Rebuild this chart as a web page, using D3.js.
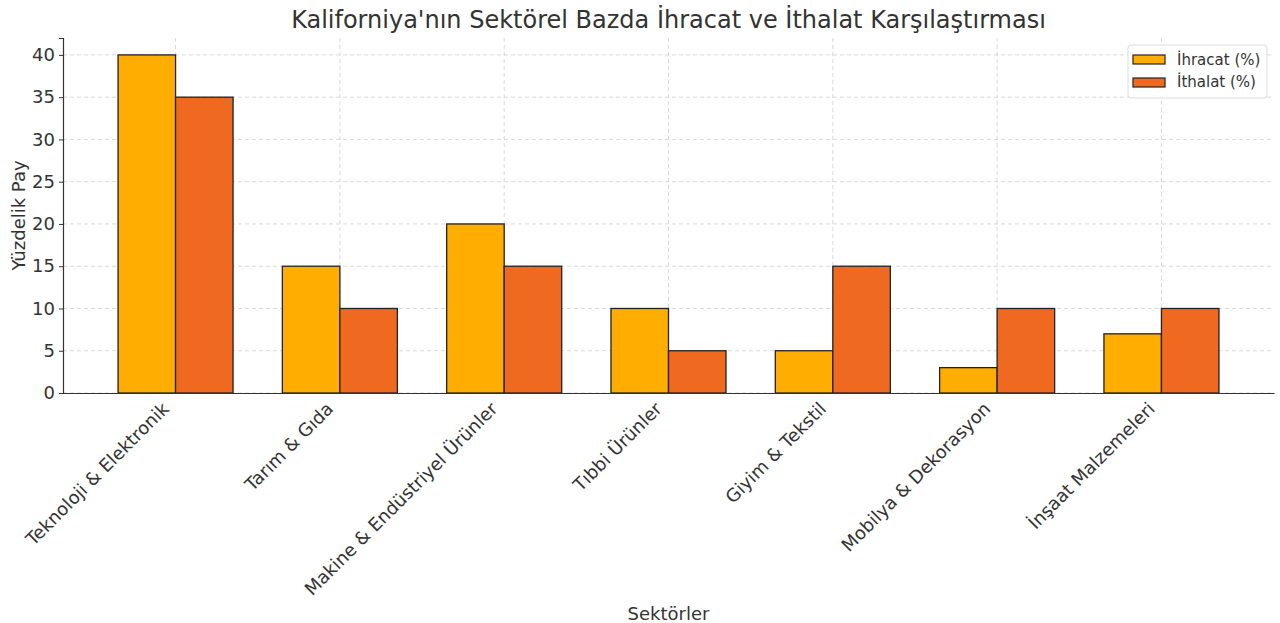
<!DOCTYPE html>
<html>
<head>
<meta charset="utf-8">
<script src="https://cdn.jsdelivr.net/npm/d3@7"></script>
<style>
    body { margin: 0; background: #fff; }
    svg { font-family: "DejaVu Sans", sans-serif; }
    .grid line { stroke: #d0d0d0; stroke-dasharray: 4,3; stroke-width: 0.8; }
</style>
</head>
<body>
<script>
// Sector names, export and import shares (percent)
var sectors = ["Teknoloji & Elektronik", "Tarım & Gıda",
    "Makine & Endüstriyel Ürünler", "Tıbbi Ürünler", "Giyim & Tekstil",
    "Mobilya & Dekorasyon", "İnşaat Malzemeleri"];
var exportShare = [40, 15, 20, 10, 5, 3, 7];
var importShare = [35, 10, 15, 5, 15, 10, 10];
var yTicks = [0, 5, 10, 15, 20, 25, 30, 35, 40];
var seriesNames = ["İhracat (%)", "İthalat (%)"];
var seriesColors = ["#FFAD00", "#EF6921"];

var W = 1280, H = 623;
var margin = {top: 38, right: 6, bottom: 230, left: 63},
    width = W - margin.left - margin.right,
    height = H - margin.top - margin.bottom;
var barW = 0.35;

var svg = d3.select("body").append("svg")
    .attr("width", W)
    .attr("height", H);

var g = svg.append("g")
    .attr("transform", "translate(" + margin.left + "," + margin.top + ")");

// index scale, padded like matplotlib's 5% margins
var x = d3.scaleLinear()
    .domain([-0.5 - barW / 2 - 0.01, sectors.length - 0.5 + barW / 2 + 0.01])
    .range([0, width]);
var y = d3.scaleLinear().domain([0, 42]).range([height, 0]);

// grid lines
g.append("g").attr("class", "grid")
    .selectAll("line").data(yTicks).enter().append("line")
    .attr("x1", 0).attr("x2", width)
    .attr("y1", function(d) { return y(d); })
    .attr("y2", function(d) { return y(d); });
g.append("g").attr("class", "grid")
    .selectAll("line").data(d3.range(sectors.length)).enter().append("line")
    .attr("x1", function(d) { return x(d); })
    .attr("x2", function(d) { return x(d); })
    .attr("y1", 0).attr("y2", height);

// bars
var series = [exportShare, importShare];
series.forEach(function(vals, s) {
    g.append("g").selectAll("rect")
        .data(vals).enter().append("rect")
        .attr("x", function(d, i) { return x(i - barW + s * barW); })
        .attr("y", function(d) { return y(d); })
        .attr("width", x(barW) - x(0))
        .attr("height", function(d) { return y(0) - y(d); })
        .attr("fill", seriesColors[s])
        .attr("stroke", "#222")
        .attr("stroke-width", 1.3);
});

// axes
var yAxis = d3.axisLeft(y).tickValues(yTicks).tickSize(4).tickPadding(4);
var yg = g.append("g").call(yAxis);
yg.select(".domain").attr("stroke", "#333").attr("stroke-width", 1.2);
yg.selectAll(".tick line").attr("stroke", "#333");
yg.selectAll("text").attr("font-size", "18px").attr("fill", "#333")
    .attr("font-family", "DejaVu Sans, sans-serif");

var xAxis = d3.axisBottom(x).tickValues(d3.range(sectors.length))
    .tickFormat(function(i) { return sectors[i]; })
    .tickSize(0);
var xg = g.append("g")
    .attr("transform", "translate(0," + height + ")")
    .call(xAxis);
xg.select(".domain").attr("stroke", "#333").attr("stroke-width", 1.2);
// rotated labels, right end just under the tick like ha='right'
xg.selectAll("text")
    .attr("font-size", "18px").attr("fill", "#333")
    .attr("font-family", "DejaVu Sans, sans-serif")
    .attr("text-anchor", "end")
    .attr("x", 0).attr("y", 0).attr("dy", 0)
    .attr("transform", "translate(-6,17)rotate(-45)");

// title and axis labels
svg.append("text")
    .attr("x", margin.left + width / 2).attr("y", 28)
    .attr("text-anchor", "middle")
    .attr("font-size", "24px").attr("fill", "#333")
    .text("Kaliforniya'nın Sektörel Bazda İhracat ve İthalat Karşılaştırması");
svg.append("text")
    .attr("x", margin.left + width / 2).attr("y", 620)
    .attr("text-anchor", "middle")
    .attr("font-size", "18px").attr("fill", "#333")
    .text("Sektörler");
svg.append("text")
    .attr("transform", "translate(25," + (margin.top + height / 2) + ")rotate(-90)")
    .attr("text-anchor", "middle")
    .attr("font-size", "18px").attr("fill", "#333")
    .text("Yüzdelik Pay");

// legend
var lg = svg.append("g").attr("transform", "translate(1128,45)");
lg.append("rect")
    .attr("width", 139).attr("height", 53).attr("rx", 3)
    .attr("fill", "#fff").attr("fill-opacity", 0.85)
    .attr("stroke", "#ddd");
seriesNames.forEach(function(name, s) {
    lg.append("rect")
        .attr("x", 5).attr("y", 10 + s * 23)
        .attr("width", 32).attr("height", 9)
        .attr("fill", seriesColors[s])
        .attr("stroke", "#222").attr("stroke-width", 1.2);
    lg.append("text")
        .attr("x", 49).attr("y", 20 + s * 22)
        .attr("font-size", "15px").attr("fill", "#333")
        .text(name);
});
</script>
</body>
</html>
